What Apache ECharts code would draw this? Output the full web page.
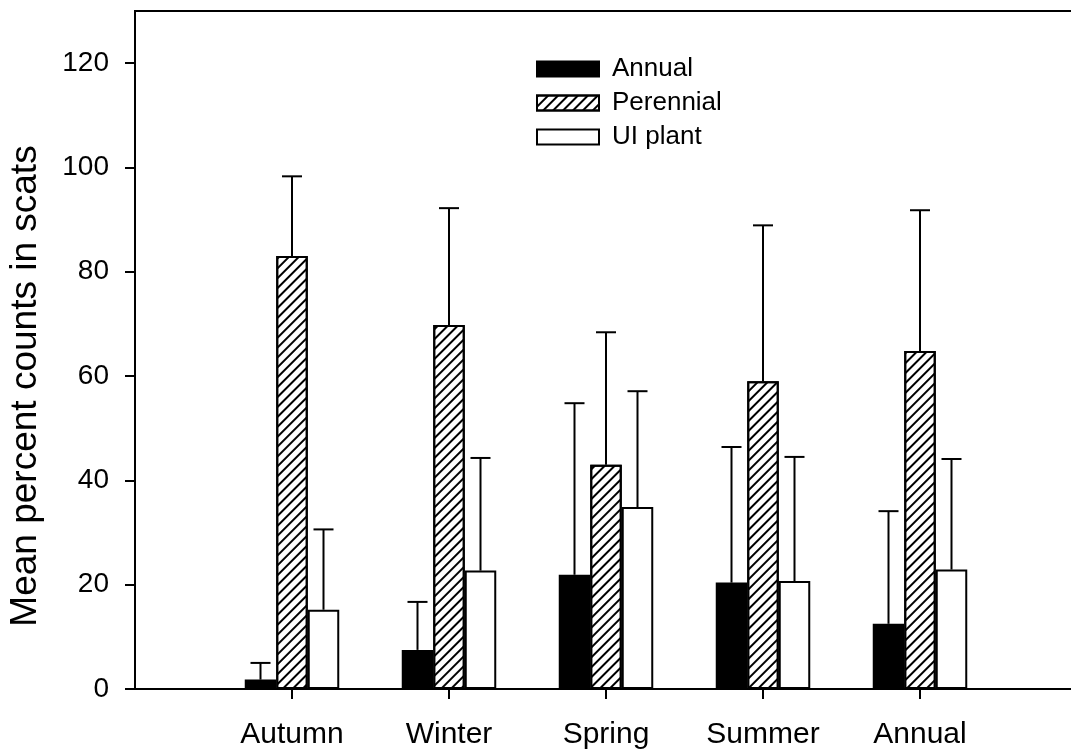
<!DOCTYPE html>
<html><head><meta charset="utf-8">
<script src="https://cdn.jsdelivr.net/npm/echarts@6/dist/echarts.min.js"></script>
<style>html,body{margin:0;background:#fff;overflow:hidden}#c{width:1071px;height:754px}</style></head>
<body><div id="c"></div>
<script>
const categories = ['Autumn', 'Winter', 'Spring', 'Summer', 'Annual'];
const annualMean = [1.8, 7.5, 21.9, 20.4, 12.5];
const annualSD = [3.2, 9.2, 32.9, 26.0, 21.6];
const perennialMean = [83.0, 69.8, 43.0, 59.0, 64.8];
const perennialSD = [15.3, 22.4, 25.4, 29.9, 27.0];
const uiMean = [15.2, 22.7, 34.9, 20.7, 22.9];
const uiSD = [15.4, 21.6, 22.2, 23.8, 21.2];
const yTicks = [0, 20, 40, 60, 80, 100, 120];
const seriesNames = ['Annual', 'Perennial', 'UI plant'];

const BW = 31.5;
const FONT = '"Liberation Sans", Arial, sans-serif';
const xData = [''].concat(categories, ['']);
const pad = arr => ['-'].concat(arr, ['-']);

function errSeries(mean, sd, k) {
  return {
    type: 'custom', silent: true, z: 5,
    data: mean.map((m, i) => [i + 1, m, m + sd[i]]),
    renderItem: (params, api) => {
      const b = api.coord([api.value(0), api.value(1)]);
      const t = api.coord([api.value(0), api.value(2)]);
      const cx = b[0] + k * BW;
      return { type: 'group', children: [
        { type: 'line', shape: { x1: cx, y1: b[1], x2: cx, y2: t[1] }, style: { stroke: '#000', lineWidth: 2 } },
        { type: 'line', shape: { x1: cx - 10, y1: t[1], x2: cx + 10, y2: t[1] }, style: { stroke: '#000', lineWidth: 2 } }
      ] };
    }
  };
}

const chart = echarts.init(document.getElementById('c'), null, { renderer: 'canvas' });
chart.setOption({
  animation: false,
  backgroundColor: '#fff',
  textStyle: { fontFamily: FONT, color: '#000' },
  grid: { left: 135, width: 942, top: 11, bottom: 65, outerBoundsMode: 'none', containLabel: false,
    show: true, borderColor: '#000', borderWidth: 2, backgroundColor: 'transparent' },
  legend: {
    data: seriesNames, orient: 'vertical', left: 536, top: 56, icon: 'rect',
    itemWidth: 62, itemHeight: 15, itemGap: 8, padding: 0,
    textStyle: { fontSize: 26, color: '#000', fontFamily: FONT, padding: [0, 0, 0, 8] }
  },
  xAxis: {
    type: 'category', data: xData, boundaryGap: false,
    axisLine: { lineStyle: { color: '#000', width: 2 } },
    axisTick: { show: true, length: 10, lineStyle: { color: '#000', width: 2 }, interval: (i, v) => v !== '' },
    axisLabel: { interval: 0, fontSize: 30, color: '#000', margin: 31, fontFamily: FONT },
    splitLine: { show: false }
  },
  yAxis: {
    type: 'value', min: 0, max: 130, interval: 20,
    name: 'Mean percent counts in scats', nameLocation: 'middle', nameGap: 91,
    nameTextStyle: { fontSize: 37, color: '#000', fontFamily: FONT, padding: [0, 72, 0, 0] },
    axisLine: { show: true, lineStyle: { color: '#000', width: 2 } },
    axisTick: { show: true, length: 10, lineStyle: { color: '#000', width: 2 }, customValues: yTicks },
    axisLabel: { fontSize: 28, color: '#000', margin: 26, fontFamily: FONT, customValues: yTicks },
    splitLine: { show: false }
  },
  series: [
    { name: 'Annual', type: 'bar', barWidth: BW, barGap: 0, data: pad(annualMean),
      itemStyle: { color: '#000', borderColor: '#000', borderWidth: 2 } },
    { name: 'Perennial', type: 'bar', barWidth: BW, barGap: 0, data: pad(perennialMean),
      itemStyle: { color: '#fff', borderColor: '#000', borderWidth: 2,
        decal: { symbol: 'rect', symbolSize: 1, color: '#000', dashArrayX: [1, 0], dashArrayY: [2, 5], rotation: -Math.PI / 4 } } },
    { name: 'UI plant', type: 'bar', barWidth: BW, barGap: 0, data: pad(uiMean),
      itemStyle: { color: '#fff', borderColor: '#000', borderWidth: 2 } },
    errSeries(annualMean, annualSD, -1),
    errSeries(perennialMean, perennialSD, 0),
    errSeries(uiMean, uiSD, 1)
  ]
});
</script></body></html>
